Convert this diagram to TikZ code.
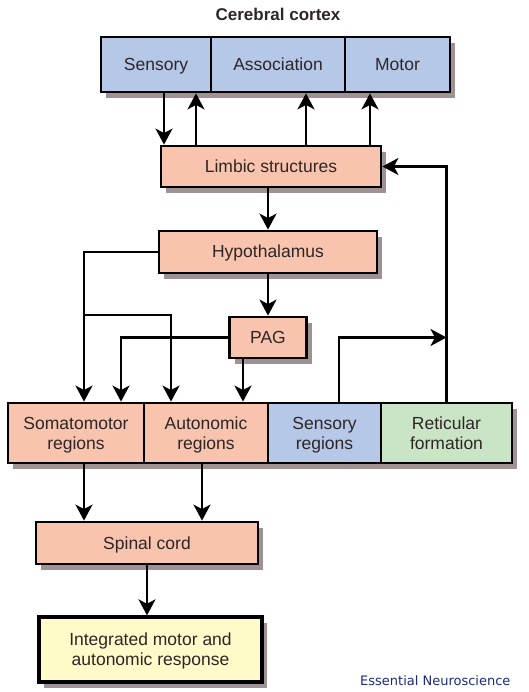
\documentclass[tikz,border=0pt]{standalone}
\usepackage{fontspec}
\setmainfont{Liberation Sans}
\newfontfamily\creditfont{DejaVu Sans}
\usetikzlibrary{arrows.meta, shadows}
\definecolor{cortexblue}{HTML}{B6C8E8}
\definecolor{salmon}{HTML}{F8C4AE}
\definecolor{retgreen}{HTML}{C9E5C6}
\definecolor{respyellow}{HTML}{FFFBC9}
\definecolor{shadowgray}{HTML}{A09292}
\definecolor{boxtext}{HTML}{2E2626}
\definecolor{creditblue}{HTML}{1C2A80}

\begin{document}
\begin{tikzpicture}[
    x=1pt, y=-1pt,        % one unit = one pixel of the sketch
    >={Stealth[length=16pt, width=17pt, inset=4.5pt]},
    box/.style = {
        rectangle, draw, line width = 2.8pt,
        inner sep = 2pt, align = center, text = boxtext,
        font = \fontsize{17.5}{20}\selectfont,
        drop shadow = {shadow xshift=5pt, shadow yshift=-6pt,
                       fill=shadowgray, opacity=1}
    },
    oneline/.style = {text height = 12pt, text depth = 0pt},
    twoline/.style = {text depth = -1.5pt},
    cortex/.style = {box, fill = cortexblue},
    region/.style = {box, fill = salmon},
    reticular/.style = {box, fill = retgreen},
    response/.style = {box, fill = respyellow, line width = 3.3pt},
    arrow/.style = {line width = 2.6pt, ->}
]
\useasboundingbox (0,0) rectangle (528,692);

% --- Cerebral cortex ---
\node[font=\fontsize{17}{20}\selectfont\bfseries, text=boxtext] (title) at (278,14) {Cerebral cortex};

\node[cortex, oneline, minimum width=110, minimum height=55] (sensory) at (156,64.5)   {Sensory};
\node[cortex, oneline, minimum width=134, minimum height=55] (assoc)   at (278,64.5)   {Association};
\node[cortex, oneline, minimum width=105, minimum height=55] (motor)   at (397.5,64.5) {Motor};

% --- Nodes placed by absolute coordinates (px) ---
\node[region, oneline, minimum width=220, minimum height=41] (limbic) at (271,166.5) {Limbic structures};
\node[region, oneline, minimum width=218, minimum height=42] (hypo)   at (268,252)   {Hypothalamus};
\node[region, oneline, minimum width=77,  minimum height=41] (pag)    at (268,337.5) {PAG};

\node[region, twoline, minimum width=136, minimum height=60] (somato)  at (76,433)    {Somatomotor\\regions};
\node[region, twoline, minimum width=124, minimum height=60] (auto)    at (206,433)   {Autonomic\\regions};
\node[cortex, twoline, minimum width=113, minimum height=60] (sensreg) at (324.5,433) {Sensory\\regions};
\node[reticular, twoline, minimum width=131, minimum height=60] (retic) at (446.5,433) {Reticular\\formation};

\node[region, oneline, minimum width=222, minimum height=42] (spinal) at (147,543) {Spinal cord};
\node[response, twoline, minimum width=223, minimum height=65] (integ) at (150.5,649.5) {Integrated motor and\\autonomic response};

\node[anchor=east, font=\creditfont\fontsize{13}{15}\selectfont, text=creditblue] (credit) at (514,681) {Essential Neuroscience};

\coordinate (hbranch) at (84,315);

% --- Arrows ---
\draw[arrow] ([xshift=8pt]sensory.south) -- ([xshift=-107pt]limbic.north);
\draw[arrow] ([xshift=-75pt]limbic.north) -- ([xshift=40pt]sensory.south);
\draw[arrow] ([xshift=35pt]limbic.north)  -- ([xshift=28pt]assoc.south);
\draw[arrow] ([xshift=99pt]limbic.north)  -- ([xshift=-27.5pt]motor.south);

\draw[arrow] (limbic.south -| hypo.north) -- (hypo.north);
\draw[arrow] (hypo.south) -- (pag.north);

\draw[arrow] (hypo.west) -| ([xshift=8pt]somato.north);
\draw[arrow] (hbranch) -| ([xshift=-35pt]auto.north);
\draw[arrow] (pag.west) -| ([xshift=45pt]somato.north);
\draw[arrow] ([xshift=-25pt]pag.south) -- ([xshift=37pt]auto.north);

\draw[arrow] ([xshift=14.5pt]sensreg.north) |- (retic.north |- pag.west);
\draw[arrow] (retic.north) |- (limbic.east);

\draw[arrow] ([xshift=8pt]somato.south) -- ([xshift=-63pt]spinal.north);
\draw[arrow] ([xshift=-4pt]auto.south)  -- ([xshift=55pt]spinal.north);
\draw[arrow] (spinal.south) -- (spinal.south |- integ.north);

\end{tikzpicture}
\end{document}
